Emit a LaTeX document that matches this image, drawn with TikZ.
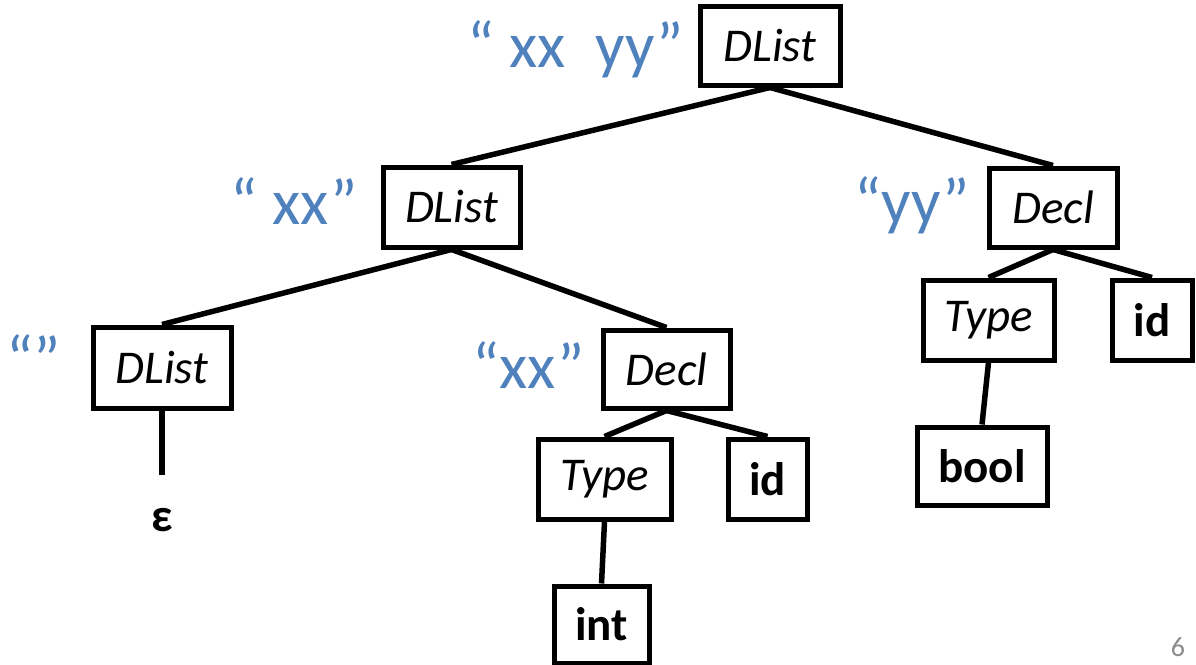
\documentclass[tikz,border=0pt]{standalone}
\usepackage{fontspec}
\setmainfont{Carlito}
\definecolor{strblue}{HTML}{4F81BD}
\definecolor{pagegrey}{HTML}{8C8C8C}
\begin{document}
\begin{tikzpicture}[x=1pt,y=-1pt,
  tbox/.style={draw=black, line width=5pt, fill=white, inner sep=0pt,
    font=\fontsize{47}{47}\selectfont, anchor=center},
  nt/.style={tbox, font=\fontsize{47}{47}\selectfont\itshape},
  term/.style={tbox, font=\fontsize{47}{47}\selectfont\bfseries},
  val/.style={text=strblue, inner sep=0pt, font=\fontsize{65}{65}\selectfont, anchor=base east},
  edge/.style={line width=5.5pt}]
\useasboundingbox (0,0) rectangle (1196,664);

% tree nodes
\node[nt, minimum width=140, minimum height=79] (root) at (770,45.5) {DList};
\node[nt, minimum width=137, minimum height=80] (dl2) at (451.5,207) {DList};
\node[nt, minimum width=128, minimum height=79] (declR) at (1053,207.5) {Decl};
\node[nt, minimum width=131, minimum height=80] (typeR) at (988.5,320) {Type};
\node[term, minimum width=80, minimum height=80] (idR) at (1152,320) {id};
\node[term, minimum width=130, minimum height=78] (bool) at (982,466) {bool};
\node[nt, minimum width=138, minimum height=81] (dl3) at (162,367.5) {DList};
\node[nt, minimum width=127, minimum height=78] (declM) at (666.5,369) {Decl};
\node[nt, minimum width=133, minimum height=80] (typeM) at (604.5,479) {Type};
\node[term, minimum width=79, minimum height=80] (idM) at (767.5,479) {id};
\node[term, minimum width=95, minimum height=77] (int) at (601.5,624.5) {int};
\coordinate (epsTop) at (162,475);
\node[font=\fontsize{47}{47}\selectfont\bfseries, inner sep=0pt] (eps) at (162,520) {ε};

% string values
\node[val] (vRoot) at (684,67) {“ xx\ \ yy”};
\node[val] (vDl2) at (358,224) {“ xx”};
\node[val] (vDeclR) at (970,223) {“yy”};
\node[val] (vDeclM) at (585,388) {“xx”};
\node[val] (vDl3) at (61,381) {“”};

% edges
\begin{scope}[on background layer/.try]
\draw[edge] (root.south) -- (dl2.north);
\draw[edge] (root.south) -- (declR.north);
\draw[edge] (dl2.south) -- (dl3.north);
\draw[edge] (dl2.south) -- (declM.north);
\draw[edge] (declR.south) -- (typeR.north);
\draw[edge] (declR.south) -- (idR.north);
\draw[edge] (declM.south) -- (typeM.north);
\draw[edge] (declM.south) -- (idM.north);
\draw[edge] (typeM.south) -- (int.north);
\draw[edge] (typeR.south) -- (bool.north);
\draw[edge] (dl3.south) -- (epsTop);
\end{scope}

\node[text=pagegrey, font=\fontsize{28}{28}\selectfont, inner sep=0pt] (page) at (1178,647) {6};
\end{tikzpicture}
\end{document}
